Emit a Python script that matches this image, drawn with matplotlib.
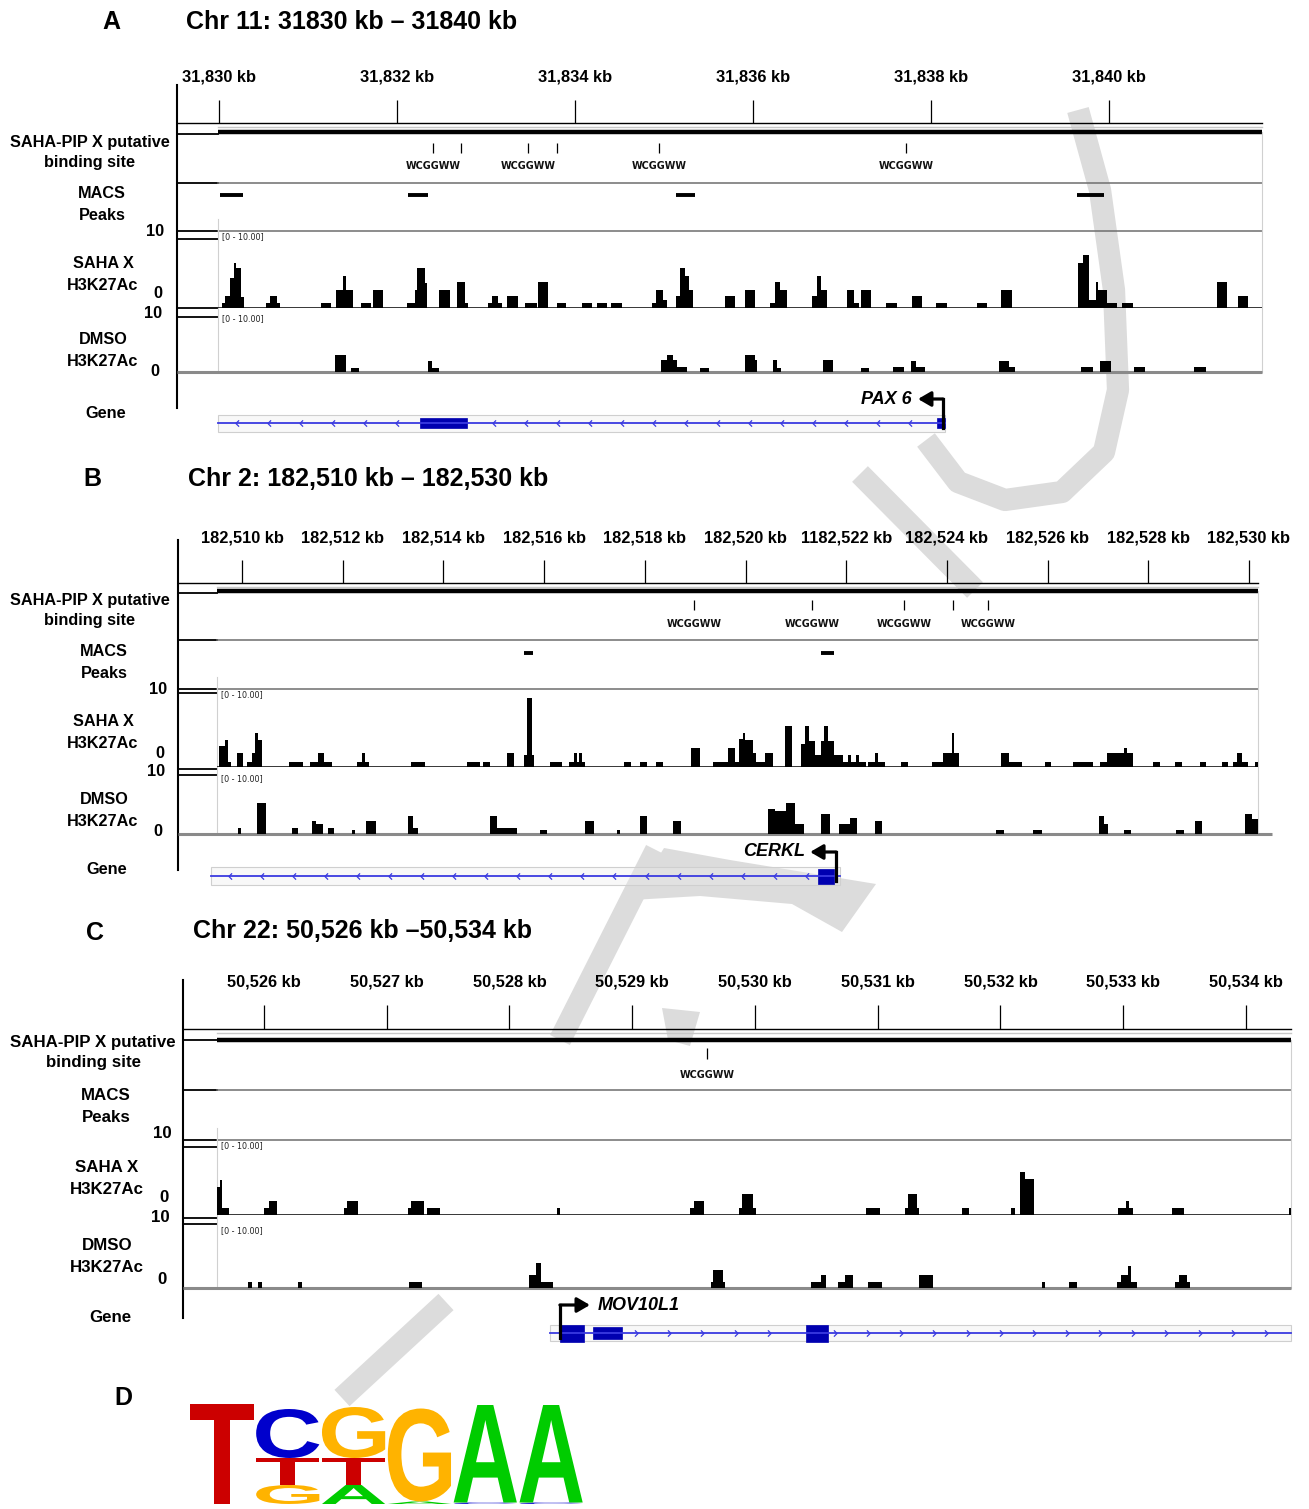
import numpy as np
import matplotlib
matplotlib.use("Agg")
import matplotlib.pyplot as plt
from matplotlib.patches import Rectangle, PathPatch, Polygon
from matplotlib.textpath import TextPath
from matplotlib.font_manager import FontProperties
from matplotlib.transforms import Affine2D
from matplotlib.path import Path

plt.rcParams['font.family'] = ['Liberation Sans', 'DejaVu Sans']

# ======================= DATA =======================
# ---------- Panel A : Chr 11 (positions = kb offset from 31,830 kb) ----------
A_ORIGIN = 31830
A_TITLE = "Chr 11: 31830 kb \u2013 31840 kb"
A_TICK_KB = [31830, 31832, 31834, 31836, 31838, 31840]
A_TICK_LABELS = ['31,830 kb', '31,832 kb', '31,834 kb', '31,836 kb', '31,838 kb', '31,840 kb']
A_SITES = [2.404, 2.719, 3.472, 3.798, 4.944, 7.719]
A_SITE_LABELS = [2.404, 3.472, 4.944, 7.719]
A_MACS = [(0.011, 0.270), (2.124, 2.348), (5.135, 5.348), (9.640, 9.944)]
A_SAHA = [(0.030, 0.067, 0.6), (0.067, 0.124, 1.5), (0.124, 0.169, 3.9), (0.169, 0.191, 5.9),
          (0.191, 0.244, 5.2), (0.244, 0.281, 1.4), (0.528, 0.573, 0.6), (0.573, 0.648, 1.6),
          (0.648, 0.685, 0.6), (1.143, 1.258, 0.6), (1.311, 1.390, 2.3), (1.390, 1.427, 4.2),
          (1.427, 1.502, 2.3), (1.596, 1.708, 0.6), (1.727, 1.839, 2.3), (2.112, 2.202, 0.6),
          (2.202, 2.225, 2.3), (2.225, 2.315, 5.2), (2.315, 2.337, 3.2), (2.472, 2.596, 2.3),
          (2.671, 2.764, 3.4), (2.764, 2.798, 0.6), (3.022, 3.064, 0.6), (3.064, 3.135, 1.6),
          (3.135, 3.180, 0.6), (3.236, 3.360, 1.6), (3.438, 3.573, 0.6), (3.581, 3.697, 3.4),
          (3.794, 3.896, 0.6), (4.075, 4.188, 0.6), (4.247, 4.360, 0.6), (4.401, 4.525, 0.6),
          (4.865, 4.910, 0.6), (4.910, 4.989, 2.3), (4.989, 5.034, 1.0), (5.135, 5.180, 1.6),
          (5.180, 5.236, 5.2), (5.236, 5.281, 4.2), (5.281, 5.326, 2.3), (5.685, 5.798, 1.6),
          (5.910, 6.022, 2.3), (6.191, 6.247, 0.6), (6.247, 6.303, 3.4), (6.303, 6.382, 2.3),
          (6.663, 6.719, 1.6), (6.719, 6.764, 4.2), (6.764, 6.831, 2.3), (7.056, 7.135, 2.3),
          (7.135, 7.191, 0.6), (7.213, 7.326, 2.3), (7.494, 7.618, 0.6), (7.787, 7.899, 1.6),
          (8.056, 8.180, 0.6), (8.517, 8.629, 0.6), (8.787, 8.910, 2.3), (9.652, 9.708, 5.9),
          (9.708, 9.775, 6.9), (9.775, 9.854, 1.0), (9.854, 9.876, 3.4), (9.876, 9.978, 2.3),
          (9.978, 10.090, 0.6), (10.146, 10.270, 0.6), (11.213, 11.326, 3.4), (11.449, 11.562, 1.6)]
A_DMSO = [(1.303, 1.427, 2.8), (1.483, 1.573, 0.7), (2.348, 2.393, 1.8), (2.393, 2.472, 0.7),
          (4.966, 5.034, 2.0), (5.034, 5.101, 2.8), (5.101, 5.146, 2.0), (5.146, 5.258, 0.9),
          (5.404, 5.506, 0.7), (5.910, 6.022, 2.8), (6.022, 6.045, 2.0), (6.225, 6.270, 2.0),
          (6.270, 6.315, 0.7), (6.787, 6.899, 2.0), (7.213, 7.303, 0.7), (7.573, 7.697, 0.8),
          (7.775, 7.831, 1.8), (7.831, 7.933, 0.8), (8.764, 8.876, 1.8), (8.876, 8.944, 0.8),
          (9.685, 9.820, 0.8), (9.899, 10.022, 1.8), (10.281, 10.404, 0.8), (10.955, 11.090, 0.8)]
A_GENE_NAME = "PAX 6"
A_GENE_SPAN = (-0.011, 8.157)
A_EXONS = [(2.258, 2.787), (8.067, 8.157)]
A_TSS = 8.135
A_STRAND = -1

# ---------- Panel B : Chr 2 (kb offset from 182,510 kb) ----------
B_ORIGIN = 182510
B_TITLE = "Chr 2: 182,510 kb \u2013 182,530 kb"
B_TICK_KB = [182510, 182512, 182514, 182516, 182518, 182520, 182522, 182524, 182526, 182528, 182530]
B_TICK_LABELS = ['182,510 kb', '182,512 kb', '182,514 kb', '182,516 kb', '182,518 kb', '182,520 kb',
                 '1182,522 kb', '182,524 kb', '182,526 kb', '182,528 kb', '182,530 kb']
B_SITES = [8.977, 11.321, 13.148, 14.121, 14.816]
B_SITE_LABELS = [8.977, 11.321, 13.148, 14.816]
B_MACS = [(5.601, 5.779), (11.500, 11.758)]
B_SAHA = [(-0.457, -0.338, 2.7), (-0.338, -0.278, 3.5), (-0.278, -0.218, 0.7), (-0.109, 0.020, 1.75),
          (0.099, 0.199, 0.7), (0.199, 0.258, 1.75), (0.258, 0.318, 4.3), (0.318, 0.397, 3.5),
          (0.924, 1.221, 0.7), (1.351, 1.509, 0.7), (1.509, 1.629, 1.75), (1.629, 1.778, 0.7),
          (2.284, 2.383, 0.7), (2.383, 2.443, 1.75), (2.443, 2.522, 0.7), (3.356, 3.627, 0.7),
          (4.469, 4.727, 0.7), (4.796, 4.926, 0.7), (5.263, 5.402, 1.75), (5.601, 5.660, 1.6),
          (5.660, 5.760, 8.9), (5.760, 5.799, 1.6), (6.117, 6.356, 0.7), (6.495, 6.594, 0.7),
          (6.594, 6.644, 1.75), (6.644, 6.693, 0.7), (6.693, 6.743, 1.75), (6.743, 6.812, 0.7),
          (7.587, 7.726, 0.7), (7.905, 8.044, 0.7), (8.222, 8.371, 0.7), (8.918, 9.096, 2.5),
          (9.364, 9.652, 0.7), (9.652, 9.791, 2.5), (9.791, 9.861, 0.7), (9.861, 9.950, 3.6),
          (9.950, 9.990, 4.3), (9.990, 10.143, 3.5), (10.143, 10.203, 1.8), (10.203, 10.379, 0.7),
          (10.379, 10.538, 1.75), (10.775, 10.916, 5.3), (11.102, 11.182, 3.0), (11.182, 11.261, 5.3),
          (11.261, 11.380, 3.3), (11.380, 11.499, 1.5), (11.499, 11.559, 3.3), (11.559, 11.638, 5.3),
          (11.638, 11.758, 3.3), (11.758, 11.936, 1.5), (11.936, 12.036, 0.7), (12.036, 12.095, 1.5),
          (12.095, 12.194, 0.7), (12.194, 12.254, 1.5), (12.254, 12.393, 0.7), (12.427, 12.572, 0.7),
          (12.572, 12.631, 1.75), (12.631, 12.770, 0.7), (13.088, 13.227, 0.7), (13.704, 13.923, 0.7),
          (13.923, 14.101, 1.75), (14.101, 14.141, 4.3), (14.141, 14.240, 1.75), (15.074, 15.233, 1.75),
          (15.233, 15.501, 0.7), (15.942, 16.067, 0.7), (16.514, 16.902, 0.7), (17.041, 17.172, 0.7),
          (17.172, 17.517, 1.75), (17.517, 17.577, 2.5), (17.577, 17.696, 1.75), (18.093, 18.232, 0.7),
          (18.530, 18.669, 0.7), (19.019, 19.146, 0.7), (19.458, 19.583, 0.7), (19.682, 19.762, 0.7),
          (19.762, 19.853, 1.75), (19.853, 19.980, 0.7), (20.119, 20.179, 0.7)]
B_DMSO = [(-0.087, -0.020, 0.95), (0.298, 0.477, 5.1), (0.993, 1.112, 0.95), (1.390, 1.470, 2.1),
          (1.470, 1.609, 1.6), (1.708, 1.827, 0.95), (2.175, 2.244, 0.7), (2.463, 2.661, 2.1),
          (3.297, 3.396, 2.9), (3.396, 3.496, 0.95), (4.926, 5.065, 2.9), (5.065, 5.462, 0.95),
          (5.919, 6.058, 0.7), (6.812, 6.981, 2.1), (7.448, 7.517, 0.7), (7.905, 8.044, 2.9),
          (8.560, 8.719, 2.1), (10.447, 10.586, 4.1), (10.586, 10.799, 3.8), (10.799, 10.983, 5.0),
          (10.983, 11.152, 1.6), (11.499, 11.688, 3.2), (11.857, 12.075, 1.6), (12.075, 12.214, 2.7),
          (12.564, 12.705, 2.1), (14.967, 15.134, 0.7), (15.702, 15.889, 0.7), (17.021, 17.120, 2.9),
          (17.120, 17.199, 1.6), (17.517, 17.656, 0.7), (18.544, 18.709, 0.7), (18.927, 19.067, 2.1),
          (19.921, 20.060, 3.2), (20.060, 20.179, 2.4)]
B_GENE_NAME = "CERKL"
B_GENE_SPAN = (-0.616, 11.88)
B_EXONS = [(11.44, 11.76)]
B_TSS = 11.80
B_STRAND = -1

# ---------- Panel C : Chr 22 (kb offset from 50,526 kb) ----------
C_ORIGIN = 50526
C_TITLE = "Chr 22: 50,526 kb \u201350,534 kb"
C_TICK_KB = [50526, 50527, 50528, 50529, 50530, 50531, 50532, 50533, 50534]
C_TICK_LABELS = ['50,526 kb', '50,527 kb', '50,528 kb', '50,529 kb', '50,530 kb',
                 '50,531 kb', '50,532 kb', '50,533 kb', '50,534 kb']
C_SITES = [3.609]
C_SITE_LABELS = [3.609]
C_MACS = []
C_SAHA = [(-0.383, -0.358, 3.8), (-0.358, -0.342, 4.7), (-0.342, -0.289, 0.9), (-0.004, 0.041, 0.9),
          (0.041, 0.102, 1.9), (0.652, 0.676, 0.9), (0.676, 0.766, 1.9), (1.177, 1.198, 0.9),
          (1.198, 1.303, 1.9), (1.328, 1.434, 0.9), (2.383, 2.408, 0.9), (3.470, 3.503, 0.9),
          (3.503, 3.585, 1.9), (3.866, 3.894, 0.9), (3.894, 3.984, 2.8), (3.984, 4.008, 0.9),
          (4.904, 5.018, 0.9), (5.222, 5.246, 0.9), (5.246, 5.320, 2.8), (5.320, 5.336, 0.9),
          (5.686, 5.743, 0.9), (6.084, 6.115, 0.9), (6.159, 6.200, 5.8), (6.200, 6.273, 4.8),
          (6.961, 7.022, 0.9), (7.022, 7.047, 1.9), (7.047, 7.077, 0.9), (7.397, 7.495, 0.9),
          (8.350, 8.367, 0.9)]
C_DMSO = [(-0.130, -0.098, 0.9), (-0.049, -0.016, 0.9), (0.277, 0.310, 0.9), (1.181, 1.287, 0.9),
          (2.159, 2.216, 2.0), (2.216, 2.257, 3.9), (2.257, 2.351, 0.9), (3.642, 3.662, 1.0),
          (3.662, 3.739, 2.8), (3.739, 3.755, 0.9), (4.456, 4.538, 0.9), (4.538, 4.578, 2.0),
          (4.676, 4.733, 0.9), (4.733, 4.795, 2.0), (4.921, 5.031, 0.9), (5.333, 5.450, 2.0),
          (6.336, 6.363, 0.9), (6.555, 6.623, 0.9), (6.950, 6.982, 0.9), (6.982, 7.039, 2.0),
          (7.039, 7.063, 3.5), (7.063, 7.112, 0.9), (7.420, 7.454, 0.9), (7.454, 7.517, 2.0),
          (7.517, 7.544, 0.9)]
C_GENE_NAME = "MOV10L1"
C_GENE_SPAN = (2.330, 8.367)
C_EXONS = [(2.411, 2.607), (2.680, 2.917), (4.415, 4.595)]
C_TSS = 2.411
C_STRAND = 1

# ---------- Panel D : motif logo (bits) ----------
LOGO_LETTERS = [['T'], ['G', 'T', 'C'], ['A', 'T', 'G'], ['A', 'G'], ['C', 'A'], ['C', 'A']]
LOGO_BITS = [[2.0], [0.38, 0.54, 0.98], [0.38, 0.54, 1.02], [0.05, 1.86], [0.03, 1.95], [0.03, 1.95]]
LOGO_COLORS = {'T': '#cc0000', 'C': '#0000cc', 'G': '#ffb300', 'A': '#00cc00'}

# ======================= LAYOUT =======================
W, H = 1309, 1509
fig = plt.figure(figsize=(W / 100, H / 100), dpi=100)
bg = fig.add_axes([0, 0, 1, 1])
bg.set_xlim(0, W)
bg.set_ylim(H, 0)
bg.axis('off')


def px_box(x0, y0, x1, y1):
    return [x0 / W, 1 - y1 / H, (x1 - x0) / W, (y1 - y0) / H]


# ---- faint grey watermark (drawn underneath everything) ----
WM = '#dcdcdc'
wm_paths = [
    [(1078, 110), (1100, 190), (1114, 290), (1118, 390), (1104, 452), (1062, 492), (1005, 500),
     (958, 482), (926, 440)],
    [(860, 474), (975, 590)],
    [(656, 850), (560, 1040)],
    [(446, 1302), (342, 1398)],
]
for pts in wm_paths:
    xs, ys = zip(*pts)
    bg.plot(xs, ys, color=WM, lw=16, solid_capstyle='butt', solid_joinstyle='round', zorder=0)
bg.add_patch(Polygon([(632, 900), (664, 848), (730, 860), (876, 884), (842, 932), (792, 904),
                      (700, 896)], closed=True, facecolor=WM, edgecolor='none', zorder=0))
bg.add_patch(Polygon([(662, 1008), (700, 1012), (690, 1046), (668, 1040)], closed=True,
                     facecolor=WM, edgecolor='none', zorder=0))

GENE_LINE = '#3a3ae0'
EXON = '#0000b0'

PANELS = [
    dict(letter='A', letter_xy=(111, 22), title=A_TITLE, title_xy=(186, 22), origin=A_ORIGIN,
         ticks=A_TICK_KB, tick_labels=A_TICK_LABELS, sites=A_SITES, site_labels=A_SITE_LABELS,
         macs=A_MACS, gname=A_GENE_NAME, gspan=A_GENE_SPAN,
         exons=A_EXONS, exon_h=[10, 10], tss=A_TSS, strand=A_STRAND,
         px0=218, px1=1262, kb_lo=-0.011, kb_hi=11.719, fy0=55, fy1=445,
         tick_label_y=77, tick_top=100, ruler_y=123, axis_x=177, axis_top=85, axis_bot=408,
         thick_y=132, site_y=(143, 153), site_label_y=166, div=[183, 231], macs_y=195,
         saha_box=(231, 308), dmso_box=(313, 372), stubs=[134, 183, 231, 239, 308, 317],
         gbox=(415, 432), gy=423, arrow_y=399, arrow_px=25, name_gap=6, chev=0.36, base_ext=0,
         lab_fs=11.7, labels=[("SAHA-PIP X putative", 90, 143), ("binding site", 90, 163),
                              ("MACS", 102, 194), ("Peaks", 102, 216), ("SAHA X", 103, 264),
                              ("H3K27Ac", 103, 286), ("DMSO", 103, 340), ("H3K27Ac", 103, 362),
                              ("Gene", 106, 414)],
         nums=[("10", 155, 232), ("0", 158, 294), ("10", 153, 314), ("0", 155, 372)]),
    dict(letter='B', letter_xy=(92, 479), title=B_TITLE, title_xy=(188, 479), origin=B_ORIGIN,
         ticks=B_TICK_KB, tick_labels=B_TICK_LABELS, sites=B_SITES, site_labels=B_SITE_LABELS,
         macs=B_MACS, gname=B_GENE_NAME, gspan=B_GENE_SPAN,
         exons=B_EXONS, exon_h=[15], tss=B_TSS, strand=B_STRAND,
         px0=217, px1=1258, kb_lo=-0.497, kb_hi=20.179, fy0=515, fy1=895,
         tick_label_y=538, tick_top=560, ruler_y=583, axis_x=178, axis_top=540, axis_bot=870,
         thick_y=591, site_y=(600, 610), site_label_y=624, div=[640, 689], macs_y=653,
         saha_box=(689, 767), dmso_box=(773, 834), stubs=[593, 640, 689, 693, 769, 775],
         gbox=(867, 885), gy=876, arrow_y=852, arrow_px=26, name_gap=5, chev=0.636, base_ext=14,
         lab_fs=11.7, labels=[("SAHA-PIP X putative", 90, 601), ("binding site", 90, 621),
                              ("MACS", 104, 652), ("Peaks", 104, 674), ("SAHA X", 103, 721),
                              ("H3K27Ac", 103, 743), ("DMSO", 104, 799), ("H3K27Ac", 103, 821),
                              ("Gene", 107, 869)],
         nums=[("10", 158, 690), ("0", 160, 753), ("10", 156, 771), ("0", 158, 832)]),
    dict(letter='C', letter_xy=(95, 933), title=C_TITLE, title_xy=(193, 931), origin=C_ORIGIN,
         ticks=C_TICK_KB, tick_labels=C_TICK_LABELS, sites=C_SITES, site_labels=C_SITE_LABELS,
         macs=C_MACS, gname=C_GENE_NAME, gspan=C_GENE_SPAN,
         exons=C_EXONS, exon_h=[17, 12, 17], tss=C_TSS, strand=C_STRAND,
         px0=217, px1=1291, kb_lo=-0.383, kb_hi=8.367, fy0=960, fy1=1355,
         tick_label_y=982, tick_top=1005, ruler_y=1029, axis_x=183, axis_top=980, axis_bot=1318,
         thick_y=1040, site_y=(1048, 1059), site_label_y=1075, div=[1090, 1140], macs_y=1103,
         saha_box=(1140, 1215), dmso_box=(1225, 1288), stubs=[1040, 1090, 1140, 1147, 1218, 1224],
         gbox=(1325, 1341), gy=1333, arrow_y=1305, arrow_px=30, name_gap=8, chev=0.27, base_ext=0,
         lab_fs=12.2, labels=[("SAHA-PIP X putative", 93, 1042), ("binding site", 93, 1063),
                              ("MACS", 106, 1095), ("Peaks", 106, 1117), ("SAHA X", 107, 1167),
                              ("H3K27Ac", 107, 1189), ("DMSO", 107, 1246), ("H3K27Ac", 107, 1268),
                              ("Gene", 110, 1317)],
         nums=[("10", 162, 1133), ("0", 164, 1198), ("10", 160, 1218), ("0", 162, 1280)]),
]

CHEV_LEFT = Path([(0.5, 1.0), (-0.5, 0.0), (0.5, -1.0)], [Path.MOVETO, Path.LINETO, Path.LINETO])
CHEV_RIGHT = Path([(-0.5, 1.0), (0.5, 0.0), (-0.5, -1.0)], [Path.MOVETO, Path.LINETO, Path.LINETO])


def signal_axes(P, box, bins):
    ax = fig.add_axes(px_box(P['px0'], box[0], P['px1'], box[1]))
    ax.set_facecolor('none')
    ax.set_xlim(P['origin'] + P['kb_lo'], P['origin'] + P['kb_hi'])
    ax.set_ylim(0, 10)
    ax.axis('off')
    s = np.array([b[0] for b in bins]) + P['origin']
    e = np.array([b[1] for b in bins]) + P['origin']
    v = np.array([b[2] for b in bins])
    ax.bar(s, v, width=e - s, align='edge', color='black', linewidth=0)
    ax.text(0.004, 0.985, '[0 - 10.00]', transform=ax.transAxes, fontsize=5.8,
            family='DejaVu Sans', va='top', ha='left', color='#222222')
    return ax


for P in PANELS:
    org = P['origin']
    px0, px1 = P['px0'], P['px1']
    kbpp = (P['kb_hi'] - P['kb_lo']) / (px1 - px0)
    # ---- decorations in pixel space ----
    bg.text(*P['letter_xy'], P['letter'], fontsize=18, weight='bold', ha='center', va='center')
    bg.text(*P['title_xy'], P['title'], fontsize=18, weight='bold', ha='left', va='center')
    bg.plot([P['axis_x']] * 2, [P['axis_top'], P['axis_bot']], color='black', lw=1.5)
    bg.plot([P['axis_x'], px1], [P['ruler_y']] * 2, color='black', lw=1.0)
    bg.plot([px0, px1], [P['ruler_y'] + 4] * 2, color='#c8c8c8', lw=1.0)
    bg.plot([px0, px1], [P['thick_y']] * 2, color='black', lw=3.2, solid_capstyle='butt')
    for y in P['stubs']:
        bg.plot([P['axis_x'], px0], [y, y], color='black', lw=1.3)
    for y in P['div']:
        bg.plot([px0, px1], [y, y], color='#6e6e6e', lw=1.1)
    bg.plot([px0, px0], [P['saha_box'][0] - 12, P['dmso_box'][1]], color='#d0d0d0', lw=0.8)
    bg.plot([px1, px1], [P['thick_y'], P['dmso_box'][1]], color='#d0d0d0', lw=0.8)
    bg.plot([P['axis_x'], px1 + P['base_ext']], [P['dmso_box'][1]] * 2,
            color='#8a8a8a', lw=2.2, solid_capstyle='butt')
    for txt, x, y in P['labels'] + P['nums']:
        bg.text(x, y, txt, fontsize=P['lab_fs'], weight='bold', ha='center', va='center')

    # ---- feature axes: x in kb, y in pixels ----
    fa = fig.add_axes(px_box(px0, P['fy0'], px1, P['fy1']))
    fa.set_facecolor('none')
    fa.set_xlim(org + P['kb_lo'], org + P['kb_hi'])
    fa.set_ylim(P['fy1'], P['fy0'])
    fa.axis('off')
    # ruler
    fa.vlines(P['ticks'], P['tick_top'], P['ruler_y'], color='black', lw=0.9)
    for t, lab in zip(P['ticks'], P['tick_labels']):
        fa.text(t, P['tick_label_y'], lab, fontsize=11.8, weight='bold', ha='center', va='center',
                clip_on=False)
    # putative binding sites
    fa.vlines(org + np.array(P['sites']), P['site_y'][0], P['site_y'][1], color='black', lw=0.9)
    for sl in P['site_labels']:
        fa.text(org + sl, P['site_label_y'], 'WCGGWW', fontsize=6.9, family='DejaVu Sans',
                weight='bold', ha='center', va='center', color='#111111')
    # MACS peaks
    for s, e in P['macs']:
        fa.plot([org + s, org + e], [P['macs_y']] * 2, color='black', lw=2.8,
                solid_capstyle='butt')
    # gene model
    gs, ge = org + P['gspan'][0], org + P['gspan'][1]
    by0, by1 = P['gbox']
    gy = P['gy']
    fa.add_patch(Rectangle((gs, by0), ge - gs, by1 - by0, facecolor=(0.93, 0.93, 0.93, 0.35),
                           edgecolor='#cfcfcf', lw=0.8, clip_on=False))
    fa.plot([gs, ge], [gy, gy], color=GENE_LINE, lw=1.3, clip_on=False)
    ex = [(org + s, org + e) for s, e in P['exons']]
    for (s, e), h in zip(ex, P['exon_h']):
        fa.add_patch(Rectangle((s, gy - h / 2), e - s, h, facecolor=EXON, edgecolor=EXON,
                               lw=0.5, clip_on=False))
    step = P['chev']
    chev = np.arange(gs + step * 0.6, ge - step * 0.3, step)
    chev = np.array([c for c in chev
                     if not any(s - step * 0.25 <= c <= e + step * 0.2 for s, e in ex)])
    fa.plot(chev, np.full(len(chev), gy), linestyle='none',
            marker=CHEV_LEFT if P['strand'] < 0 else CHEV_RIGHT, markersize=4.5,
            markerfacecolor='none', markeredgecolor=GENE_LINE, markeredgewidth=0.9, clip_on=False)
    # TSS arrow
    tss = org + P['tss']
    tip = tss + P['strand'] * P['arrow_px'] * kbpp
    fa.plot([tss, tss], [gy + 5, P['arrow_y']], color='black', lw=2.3, solid_capstyle='projecting',
            clip_on=False)
    fa.annotate('', xy=(tip, P['arrow_y']), xytext=(tss, P['arrow_y']),
                arrowprops=dict(arrowstyle='-|>,head_length=0.55,head_width=0.32', color='black',
                                lw=2.3, shrinkA=0, shrinkB=0, mutation_scale=14),
                annotation_clip=False)
    name_x = tip + P['strand'] * P['name_gap'] * kbpp
    fa.text(name_x, P['arrow_y'], P['gname'], fontsize=13, weight='bold', style='italic',
            ha='right' if P['strand'] < 0 else 'left', va='center')

# ---- signal tracks ----
for P, sb, db in zip(PANELS, [A_SAHA, B_SAHA, C_SAHA], [A_DMSO, B_DMSO, C_DMSO]):
    sa = signal_axes(P, P['saha_box'], sb)
    sa.axhline(0, color='black', lw=1.1)
    signal_axes(P, P['dmso_box'], db)

# ---- Panel D: sequence logo ----
bg.text(123, 1398, 'D', fontsize=18, weight='bold', ha='center', va='center')
lax = fig.add_axes(px_box(189, 1404, 584, 1504))
lax.set_facecolor('none')
lax.set_xlim(0, len(LOGO_LETTERS))
lax.set_ylim(0, 2)
lax.axis('off')
fp = FontProperties(family='Liberation Sans', weight='bold')
for i, (letters, bits) in enumerate(zip(LOGO_LETTERS, LOGO_BITS)):
    y0 = 0.0
    for L, b in zip(letters, bits):
        tp = TextPath((0, 0), L, size=1, prop=fp)
        bb = tp.get_extents()
        tr = (Affine2D().translate(-bb.x0, -bb.y0)
              .scale(0.96 / bb.width, b / bb.height)
              .translate(i + 0.02, y0))
        lax.add_patch(PathPatch(tr.transform_path(tp), facecolor=LOGO_COLORS[L],
                                edgecolor='none', clip_on=False))
        y0 += b

fig.savefig('out.png', dpi=100)
